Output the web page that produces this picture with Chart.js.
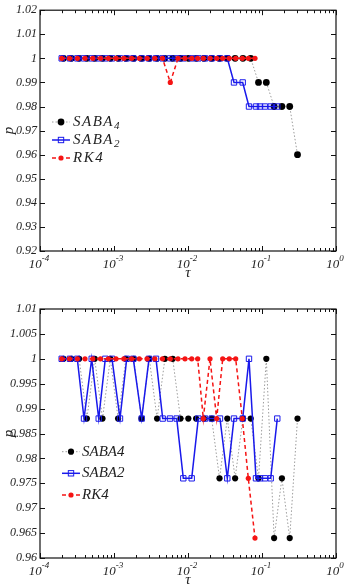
<!DOCTYPE html>
<html>
<head>
<meta charset="utf-8">
<script src="https://cdn.jsdelivr.net/npm/chart.js@4.4.0/dist/chart.umd.min.js"></script>
<style>
  html, body { margin: 0; padding: 0; background: #fff; }
  canvas { display: block; }
</style>
</head>
<body>
<canvas id="topChart" width="349" height="294"></canvas>
<canvas id="bottomChart" width="349" height="294"></canvas>
<script>
// step sizes tau used by each integrator
const tauSaba4 = [2.078e-4, 2.649e-4, 3.376e-4, 4.302e-4, 5.484e-4, 6.990e-4, 8.913e-4, 1.136e-3,
  1.448e-3, 1.846e-3, 2.353e-3, 2.999e-3, 3.823e-3, 4.873e-3, 6.213e-3, 7.920e-3, 1.010e-2,
  1.287e-2, 1.641e-2, 2.091e-2, 2.666e-2, 3.398e-2, 4.332e-2, 5.521e-2, 7.038e-2, 8.971e-2,
  0.1144, 0.1458, 0.1858, 0.2369, 0.3019];
const tauSaba2 = [1.964e-4, 2.543e-4, 3.192e-4, 3.932e-4, 4.995e-4, 6.213e-4, 7.628e-4, 9.397e-4,
  1.205e-3, 1.485e-3, 1.823e-3, 2.367e-3, 2.972e-3, 3.695e-3, 4.550e-3, 5.711e-3, 7.037e-3,
  8.640e-3, 1.122e-2, 1.378e-2, 1.697e-2, 2.091e-2, 2.706e-2, 3.397e-2, 4.183e-2, 5.484e-2,
  6.672e-2, 8.296e-2, 9.397e-2, 0.1098, 0.1311, 0.1609];
const tauRk4 = [1.964e-4, 2.504e-4, 3.192e-4, 4.056e-4, 5.170e-4, 6.570e-4, 8.375e-4, 1.064e-3,
  1.357e-3, 1.724e-3, 2.197e-3, 2.792e-3, 3.559e-3, 4.522e-3, 5.765e-3, 7.326e-3, 9.110e-3,
  1.122e-2, 1.352e-2, 1.609e-2, 1.983e-2, 2.442e-2, 2.944e-2, 3.614e-2, 4.411e-2, 5.417e-2,
  6.530e-2, 8.040e-2];

// upper panel, p
const topSaba4 = [1, 1, 1, 1, 1, 1, 1, 1, 1, 1, 1, 1, 1, 1, 1, 1, 1, 1, 1, 1, 1, 1, 1, 1, 1,
  0.99, 0.99, 0.98, 0.98, 0.98, 0.96];
const topSaba2 = [1, 1, 1, 1, 1, 1, 1, 1, 1, 1, 1, 1, 1, 1, 1, 1, 1, 1, 1, 1, 1, 1, 1, 1,
  0.99, 0.99, 0.98, 0.98, 0.98, 0.98, 0.98, 0.98];
const topRk4 = [1, 1, 1, 1, 1, 1, 1, 1, 1, 1, 1, 1, 1, 1, 0.99, 1, 1, 1, 1, 1, 1, 1, 1, 1, 1,
  1, 1, 1];

// lower panel, p
const botSaba4 = [1, 1, 1, 0.988, 1, 0.988, 1, 0.988, 1, 1, 0.988, 1, 0.988, 1, 1, 0.988,
  0.988, 0.988, 0.988, 0.988, 0.976, 0.988, 0.976, 0.988, 0.988, 0.976, 1, 0.964, 0.976,
  0.964, 0.988];
const botSaba2 = [1, 1, 1, 0.988, 1, 0.988, 1, 1, 0.988, 1, 1, 0.988, 1, 1, 0.988, 0.988,
  0.988, 0.976, 0.976, 0.988, 0.988, 0.988, 0.988, 0.976, 0.988, 0.988, 1, 0.976, 0.976,
  0.976, 0.976, 0.988];
const botRk4 = [1, 1, 1, 1, 1, 1, 1, 1, 1, 1, 1, 1, 1, 1, 1, 1, 1, 1, 1, 0.988, 1, 0.988, 1,
  1, 1, 0.988, 0.976, 0.964];

const xDecades = [-4, -3, -2, -1, 0];

const SERIF = '"Liberation Serif", "DejaVu Serif", serif';
const blue = 'rgb(25,25,235)';
const red = 'rgb(245,20,20)';

function pairs(xs, ys) {
  return xs.map((x, i) => ({ x: x, y: ys[i] }));
}

function drawMarker(ctx, ds, x, y) {
  ctx.save();
  if (ds.pointStyle === 'rect') {
    const s = ds.pointRadius * Math.SQRT1_2;
    ctx.strokeStyle = ds.pointBorderColor;
    ctx.lineWidth = ds.pointBorderWidth;
    ctx.strokeRect(x - s, y - s, 2 * s, 2 * s);
  } else {
    ctx.fillStyle = ds.pointBackgroundColor;
    ctx.beginPath();
    ctx.arc(x, y, ds.pointRadius, 0, Math.PI * 2);
    ctx.fill();
  }
  ctx.restore();
}

function framePlugin(cfg) {
  return {
    id: 'frame',
    afterDraw(chart) {
      const { ctx, chartArea: a, scales } = chart;
      const xs = scales.x, ys = scales.y;
      ctx.save();
      ctx.strokeStyle = '#111';
      ctx.lineWidth = 1.2;
      ctx.strokeRect(a.left, a.top, a.right - a.left, a.bottom - a.top);

      // inward ticks
      ctx.lineWidth = 1;
      ctx.beginPath();
      ys.ticks.forEach(t => {
        const py = Math.round(ys.getPixelForValue(t.value)) + 0.5;
        ctx.moveTo(a.left, py); ctx.lineTo(a.left + 5, py);
        ctx.moveTo(a.right, py); ctx.lineTo(a.right - 5, py);
      });
      xDecades.forEach(e => {
        const px = Math.round(xs.getPixelForValue(Math.pow(10, e))) + 0.5;
        ctx.moveTo(px, a.bottom); ctx.lineTo(px, a.bottom - 5);
        ctx.moveTo(px, a.top); ctx.lineTo(px, a.top + 5);
        if (e < 0) {
          for (let m = 2; m <= 9; m++) {
            const qx = Math.round(xs.getPixelForValue(m * Math.pow(10, e))) + 0.5;
            ctx.moveTo(qx, a.bottom); ctx.lineTo(qx, a.bottom - 3);
            ctx.moveTo(qx, a.top); ctx.lineTo(qx, a.top + 3);
          }
        }
      });
      ctx.stroke();

      // x tick labels 10^e
      ctx.fillStyle = '#222';
      ctx.textBaseline = 'alphabetic';
      xDecades.forEach(e => {
        const px = xs.getPixelForValue(Math.pow(10, e));
        const sup = e === 0 ? '0' : '-' + Math.abs(e);
        ctx.font = 'italic 13px ' + SERIF;
        const w1 = ctx.measureText('10').width;
        ctx.font = 'italic 9px ' + SERIF;
        const w2 = ctx.measureText(sup).width;
        const x0 = px - (w1 + w2) / 2 - 1;
        ctx.font = 'italic 13px ' + SERIF;
        ctx.textAlign = 'left';
        ctx.fillText('10', x0, a.bottom + 17);
        ctx.font = 'italic 9px ' + SERIF;
        ctx.fillText(sup, x0 + w1, a.bottom + 10);
      });

      // axis titles
      ctx.font = 'italic 15px ' + SERIF;
      ctx.textAlign = 'center';
      ctx.fillText('\u03C4', (a.left + a.right) / 2, a.bottom + 26);
      ctx.save();
      ctx.translate(9, (a.top + a.bottom) / 2);
      ctx.rotate(-Math.PI / 2);
      ctx.textBaseline = 'middle';
      ctx.fillText('p', 0, 0);
      ctx.restore();

      // legend
      const L = cfg.legend;
      chart.data.datasets.forEach((ds, i) => {
        const y = L.rows[i];
        ctx.save();
        ctx.strokeStyle = ds.borderColor;
        ctx.lineWidth = ds.borderWidth;
        ctx.setLineDash(ds.borderDash || []);
        ctx.beginPath();
        ctx.moveTo(L.x0, y); ctx.lineTo(L.x1, y);
        ctx.stroke();
        ctx.restore();
        drawMarker(ctx, ds, (L.x0 + L.x1) / 2, y);
        const item = L.items[i];
        ctx.save();
        ctx.fillStyle = '#222';
        ctx.textAlign = 'left';
        ctx.textBaseline = 'middle';
        ctx.font = 'italic ' + L.size + 'px ' + SERIF;
        if ('letterSpacing' in ctx) ctx.letterSpacing = L.spacing + 'px';
        ctx.fillText(item[0], L.tx, y);
        const w = ctx.measureText(item[0]).width;
        if (item[1]) {
          ctx.font = 'italic ' + Math.round(L.size * 0.7) + 'px ' + SERIF;
          ctx.fillText(item[1], L.tx + w, y + 4);
        }
        ctx.restore();
      });
      ctx.restore();
    }
  };
}

function makeChart(id, cfg) {
  new Chart(document.getElementById(id), {
    type: 'scatter',
    data: {
      datasets: [
        {
          label: 'SABA4', data: pairs(tauSaba4, cfg.saba4), order: 2, showLine: true,
          borderColor: '#9c9c9c', borderWidth: 1, borderDash: [1.5, 2],
          pointStyle: 'circle', pointRadius: cfg.blackR, pointBackgroundColor: '#000',
          pointBorderColor: '#000', pointBorderWidth: 0
        },
        {
          label: 'SABA2', data: pairs(tauSaba2, cfg.saba2), order: 1, showLine: true,
          borderColor: blue, borderWidth: 1.5,
          pointStyle: 'rect', pointRadius: 3.8, pointBackgroundColor: 'rgba(0,0,0,0)',
          pointBorderColor: blue, pointBorderWidth: 1
        },
        {
          label: 'RK4', data: pairs(tauRk4, cfg.rk4), order: 0, showLine: true,
          borderColor: red, borderWidth: 1.5, borderDash: [4, 3],
          pointStyle: 'circle', pointRadius: 2.6, pointBackgroundColor: red,
          pointBorderColor: red, pointBorderWidth: 0
        }
      ]
    },
    options: {
      responsive: false,
      animation: false,
      devicePixelRatio: 1,
      layout: { padding: { top: cfg.padTop, right: 13, left: 0, bottom: 0 } },
      plugins: { legend: { display: false }, tooltip: { enabled: false } },
      elements: { line: { tension: 0 } },
      scales: {
        x: {
          type: 'logarithmic', min: 1e-4, max: 1,
          grid: { display: false, drawTicks: false },
          border: { display: false },
          ticks: { display: false },
          afterFit(s) { s.height = cfg.xHeight; }
        },
        y: {
          min: cfg.yMin, max: cfg.yMax,
          grid: { display: false, drawTicks: false },
          border: { display: false },
          ticks: {
            stepSize: cfg.step,
            padding: 3,
            color: '#222',
            font: { family: SERIF, style: 'italic', size: 12 },
            callback: v => String(parseFloat(Number(v).toFixed(3)))
          },
          afterFit(s) { s.width = 40; }
        }
      }
    },
    plugins: [framePlugin(cfg)]
  });
}

makeChart('topChart', {
  saba4: topSaba4, saba2: topSaba2, rk4: topRk4,
  yMin: 0.92, yMax: 1.02, step: 0.01, padTop: 9, xHeight: 43, blackR: 3.4,
  legend: {
    rows: [122, 140, 158], x0: 52, x1: 70, tx: 73, size: 15, spacing: 1.5,
    items: [['SABA', '4'], ['SABA', '2'], ['RK4', '']]
  }
});

makeChart('bottomChart', {
  saba4: botSaba4, saba2: botSaba2, rk4: botRk4,
  yMin: 0.96, yMax: 1.01, step: 0.005, padTop: 15, xHeight: 30, blackR: 3.1,
  legend: {
    rows: [157.7, 179.3, 201], x0: 62, x1: 80, tx: 82, size: 15, spacing: 0,
    items: [['SABA4', ''], ['SABA2', ''], ['RK4', '']]
  }
});
</script>
</body>
</html>
